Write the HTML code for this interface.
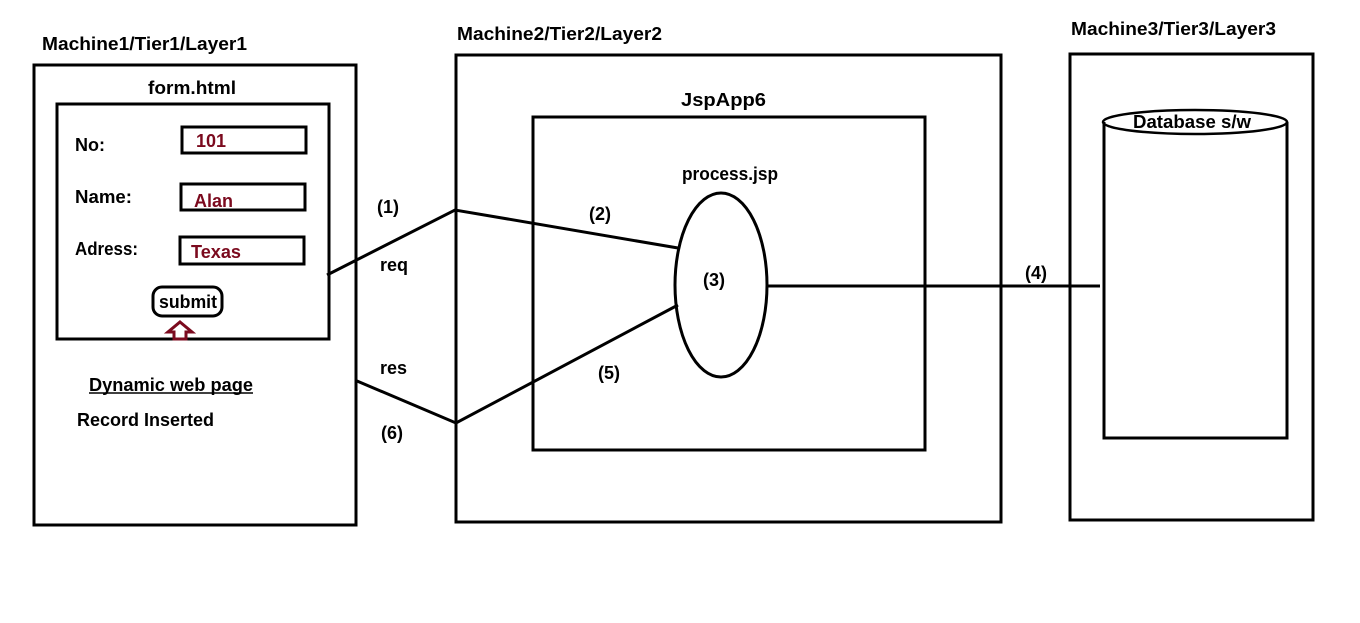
<!DOCTYPE html>
<html><head><meta charset="utf-8"><style>
html,body{margin:0;padding:0;background:#fff;width:1360px;height:623px;overflow:hidden}
svg{display:block}
text{font-family:"Liberation Sans",sans-serif;font-weight:bold;font-size:18px;fill:#000}
.r{fill:#7b0a1e}
</style></head><body>
<svg width="1360" height="623" viewBox="0 0 1360 623">
<g fill="none" stroke="#000" stroke-width="3">
<rect x="34" y="65" width="322" height="460"/>
<rect x="57" y="104" width="272" height="235"/>
<rect x="182" y="127" width="124" height="26"/>
<rect x="181" y="184" width="124" height="26"/>
<rect x="180" y="237" width="124" height="27"/>
<rect x="153" y="287" width="69" height="29" rx="9"/>
<rect x="456" y="55" width="545" height="467"/>
<rect x="533" y="117" width="392" height="333"/>
<ellipse cx="721" cy="285" rx="46" ry="92"/>
<rect x="1070" y="54" width="243" height="466"/>
<path d="M1104 122 V438 H1287 V122"/>
<ellipse cx="1195" cy="122" rx="92" ry="12" stroke-width="2.5"/>
<polyline points="327,275 455,210 678,248"/>
<polyline points="357,381 456,423 678,305"/>
<line x1="767" y1="286" x2="1100" y2="286"/>
</g>
<path d="M180 322 L192 332 H186 V339 H174 V332 H168 Z" fill="#fff" stroke="#7b0a1e" stroke-width="3"/>
<text x="42" y="50" textLength="205" lengthAdjust="spacingAndGlyphs">Machine1/Tier1/Layer1</text>
<text x="457" y="40" textLength="205" lengthAdjust="spacingAndGlyphs">Machine2/Tier2/Layer2</text>
<text x="1071" y="35" textLength="205" lengthAdjust="spacingAndGlyphs">Machine3/Tier3/Layer3</text>
<text x="148" y="94" textLength="88" lengthAdjust="spacingAndGlyphs">form.html</text>
<text x="75" y="151">No:</text>
<text x="75" y="203" textLength="57" lengthAdjust="spacingAndGlyphs">Name:</text>
<text x="75" y="255" textLength="63" lengthAdjust="spacingAndGlyphs">Adress:</text>
<text class="r" x="196" y="147">101</text>
<text class="r" x="194" y="207">Alan</text>
<text class="r" x="191" y="258" textLength="50" lengthAdjust="spacingAndGlyphs">Texas</text>
<text x="159" y="308" textLength="58" lengthAdjust="spacingAndGlyphs">submit</text>
<text x="89" y="391" textLength="164" lengthAdjust="spacingAndGlyphs">Dynamic web page</text>
<line x1="89" y1="393" x2="253" y2="393" stroke="#000" stroke-width="1.5"/>
<text x="77" y="426" textLength="137" lengthAdjust="spacingAndGlyphs">Record Inserted</text>
<text x="681" y="106" textLength="85" lengthAdjust="spacingAndGlyphs">JspApp6</text>
<text x="682" y="180" textLength="96" lengthAdjust="spacingAndGlyphs">process.jsp</text>
<text x="377" y="213">(1)</text>
<text x="380" y="271">req</text>
<text x="589" y="220">(2)</text>
<text x="703" y="286">(3)</text>
<text x="1025" y="279">(4)</text>
<text x="380" y="374">res</text>
<text x="598" y="379">(5)</text>
<text x="381" y="439">(6)</text>
<text x="1133" y="128" textLength="118" lengthAdjust="spacingAndGlyphs">Database s/w</text>
</svg>
</body></html>
